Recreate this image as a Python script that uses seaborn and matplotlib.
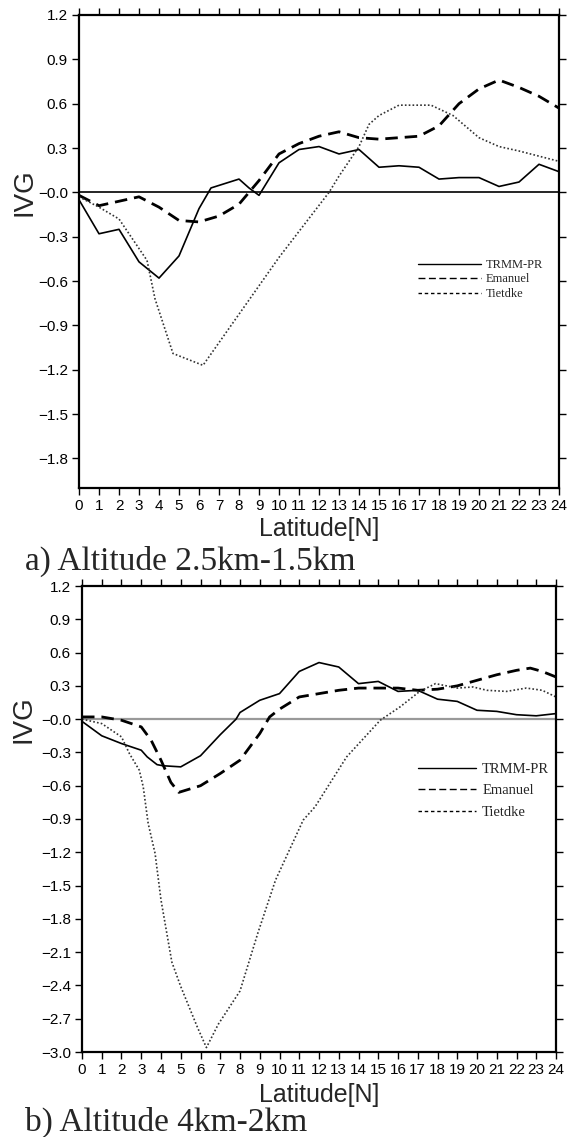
import numpy as np
import pandas as pd
import seaborn as sns
import matplotlib.pyplot as plt

# ---- panel a) Altitude 2.5km-1.5km ----
a_trmm_lat = [0, 1, 2, 3, 4, 5, 6, 6.6, 8, 8.5, 9, 10, 11, 12, 13, 14, 15, 16, 17, 18, 19, 20, 21, 22, 23, 24]
a_trmm_ivg = [-0.05, -0.28, -0.25, -0.47, -0.58, -0.43, -0.11, 0.03, 0.09, 0.03, -0.02, 0.2, 0.29, 0.31, 0.26, 0.29,
              0.17, 0.18, 0.17, 0.09, 0.10, 0.10, 0.04, 0.07, 0.19, 0.14]
a_eman_lat = [0, 1, 2, 3, 4, 5, 6, 7, 8, 9, 10, 11, 12, 13, 14, 15, 16, 17, 18, 19, 20, 21, 22, 23, 24]
a_eman_ivg = [-0.02, -0.09, -0.06, -0.03, -0.10, -0.19, -0.20, -0.16, -0.08, 0.08, 0.26, 0.33, 0.38, 0.41, 0.37,
              0.36, 0.37, 0.38, 0.45, 0.60, 0.70, 0.76, 0.71, 0.65, 0.57]
a_tiet_lat = [0, 1, 2, 2.7, 3.4, 3.8, 4.7, 6.2, 10, 12.5, 13, 14, 14.5, 15, 16, 17.6, 18.7, 20, 21, 22, 24]
a_tiet_ivg = [-0.03, -0.10, -0.18, -0.32, -0.46, -0.72, -1.09, -1.17, -0.44, 0.0, 0.11, 0.31, 0.46, 0.52, 0.59,
              0.59, 0.52, 0.37, 0.31, 0.28, 0.21]

# ---- panel b) Altitude 4km-2km ----
b_trmm_lat = [0, 1, 2, 3, 3.3, 3.8, 4.1, 5, 6, 7, 7.8, 8, 9, 10, 11, 12, 13, 14, 15, 16, 17, 18, 19, 20, 21, 22,
              23, 24]
b_trmm_ivg = [-0.02, -0.15, -0.22, -0.28, -0.34, -0.41, -0.42, -0.43, -0.33, -0.14, 0.0, 0.06, 0.17, 0.23, 0.43,
              0.51, 0.47, 0.32, 0.34, 0.25, 0.26, 0.18, 0.16, 0.08, 0.07, 0.04, 0.03, 0.05]
b_eman_lat = [0, 1, 2, 3, 3.5, 4, 4.5, 4.9, 6, 7, 8, 9, 9.5, 10, 11, 12, 13, 14, 15, 16, 17, 18, 19, 20, 21, 22,
              22.7, 23.3, 24]
b_eman_ivg = [0.02, 0.02, -0.01, -0.07, -0.19, -0.37, -0.57, -0.66, -0.60, -0.49, -0.37, -0.13, 0.02, 0.09, 0.20,
              0.23, 0.26, 0.28, 0.28, 0.28, 0.26, 0.27, 0.30, 0.35, 0.40, 0.44, 0.46, 0.43, 0.38]
b_tiet_lat = [0, 1, 2, 2.4, 2.9, 3.1, 3.35, 3.7, 4.0, 4.55, 5.0, 5.85, 6.3, 6.9, 8.0, 8.9, 9.8, 11.2, 11.8, 13.4,
              15.1, 16.1, 17.1, 17.9, 19, 19.8, 20.5, 21.5, 22.5, 23.3, 24]
b_tiet_ivg = [0.0, -0.04, -0.16, -0.31, -0.46, -0.61, -0.94, -1.21, -1.63, -2.19, -2.41, -2.78, -2.96, -2.75,
              -2.45, -1.93, -1.45, -0.91, -0.79, -0.34, -0.01, 0.11, 0.25, 0.32, 0.28, 0.29, 0.26, 0.25, 0.28,
              0.26, 0.20]

lat_ticks = list(range(0, 25))
a_yticks = [1.2, 0.9, 0.6, 0.3, 0.0, -0.3, -0.6, -0.9, -1.2, -1.5, -1.8]
a_ylabels = ["1.2", "0.9", "0.6", "0.3", "\u22120.0", "\u22120.3", "\u22120.6", "\u22120.9", "\u22121.2",
             "\u22121.5", "\u22121.8"]
b_yticks = [1.2, 0.9, 0.6, 0.3, 0.0, -0.3, -0.6, -0.9, -1.2, -1.5, -1.8, -2.1, -2.4, -2.7, -3.0]
b_ylabels = ["1.2", "0.9", "0.6", "0.3", "\u22120.0", "\u22120.3", "\u22120.6", "\u22120.9", "\u22121.2",
             "\u22121.5", "\u22121.8", "\u22122.1", "\u22122.4", "\u22122.7", "\u22123.0"]

sns.set_style("ticks")
plt.rcParams['font.family'] = ['Liberation Sans', 'DejaVu Sans']

W, H = 569, 1137
fig = plt.figure(figsize=(W / 100, H / 100), dpi=100)


def px_axes(l, t, r, b):
    return fig.add_axes([l / W, 1 - b / H, (r - l) / W, (b - t) / H])


def draw_panel(ax, series, ylim, yticks, ylabels, zero_color, zero_lw, label_x, label_pad, leg_anchor,
               leg_size, leg_spacing, leg_handle):
    ax.axhline(0, color=zero_color, lw=zero_lw, zorder=1)
    styles = [("TRMM-PR", "black", 1.2, "-"),
              ("Emanuel", "black", 2.0, (0, (4.5, 2.5))),
              ("Tietdke", "#333333", 1.2, (0, (1, 1.3)))]
    for (lat, ivg), (name, col, lw, ls) in zip(series, styles):
        df = pd.DataFrame({"lat": lat, "ivg": ivg})
        sns.lineplot(data=df, x="lat", y="ivg", ax=ax, color=col, lw=lw, linestyle=ls, label=name,
                     estimator=None, sort=False)
    ax.set_xlim(0, 24)
    ax.set_ylim(*ylim)
    ax.set_xticks(lat_ticks)
    ax.set_xticklabels([str(t) for t in lat_ticks], fontsize=11)
    ax.set_yticks(yticks)
    ax.set_yticklabels(ylabels, fontsize=11)
    ax.tick_params(axis="both", direction="out", length=5, width=1, pad=3, colors="black",
                   top=True, right=True, labeltop=False, labelright=False)
    for s in ax.spines.values():
        s.set_linewidth(1.6)
        s.set_color("black")
    ax.set_xlabel("Latitude[N]", fontsize=18, labelpad=label_pad)
    ax.set_ylabel("IVG", fontsize=20)
    frac0 = (0 - ylim[0]) / (ylim[1] - ylim[0])
    ax.yaxis.set_label_coords(label_x, frac0)
    h, l = ax.get_legend_handles_labels()
    leg = ax.legend(h, l, loc="upper left", bbox_to_anchor=leg_anchor, frameon=False,
                    prop={"family": "Liberation Serif", "size": leg_size}, handlelength=leg_handle,
                    handletextpad=0.4, labelspacing=leg_spacing, borderpad=0, borderaxespad=0)
    legend_ls = ["-", (0, (5, 2.5)), (0, (2.5, 2))]
    for line, ls in zip(leg.get_lines(), legend_ls):
        line.set_linewidth(1.0)
        line.set_linestyle(ls)
        line.set_color("black")


ax1 = px_axes(79, 15, 559, 488)
draw_panel(ax1,
           [(a_trmm_lat, a_trmm_ivg), (a_eman_lat, a_eman_ivg), (a_tiet_lat, a_tiet_ivg)],
           (-2.0, 1.2), a_yticks, a_ylabels, "black", 1.2, -0.0875, 3,
           ((418 - 79) / 480, (488 - 259) / 473), 9, 0.2, 5.0)

ax2 = px_axes(82, 586, 556, 1052)
draw_panel(ax2,
           [(b_trmm_lat, b_trmm_ivg), (b_eman_lat, b_eman_ivg), (b_tiet_lat, b_tiet_ivg)],
           (-3.0, 1.2), b_yticks, b_ylabels, "#999999", 1.6, -0.095, 4,
           ((418 - 82) / 474, (1052 - 763) / 466), 10.5, 0.55, 4.0)

fig.text(25 / W, 1 - 570 / H, "a) Altitude 2.5km-1.5km", family="Liberation Serif", fontsize=24,
         va="baseline", ha="left")
fig.text(25 / W, 1 - 1131 / H, "b) Altitude 4km-2km", family="Liberation Serif", fontsize=24,
         va="baseline", ha="left")

fig.savefig("out.png", dpi=100)
